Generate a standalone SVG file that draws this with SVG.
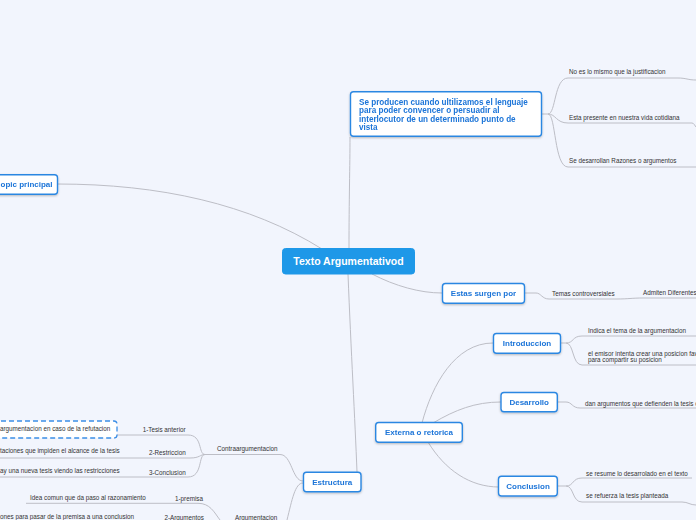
<svg xmlns="http://www.w3.org/2000/svg" width="696" height="520" viewBox="0 0 696 520">
<defs>
<filter id="sh" x="-10%" y="-20%" width="120%" height="160%">
<feDropShadow dx="0" dy="1" stdDeviation="0.8" flood-color="#000" flood-opacity="0.25"/>
</filter>
<style>
.bg{fill:#f2f5fd}
.node rect{fill:#ffffff;stroke:#2c87e2;stroke-width:1.4}
.node text{font-family:"Liberation Sans",Arial,sans-serif;font-weight:bold;font-size:8px;fill:#1b74d8}
#se-producen text{font-size:8.15px}
.central rect{fill:#1e98e8;stroke:#1e98e8}
.central text{font-family:"Liberation Sans",Arial,sans-serif;font-weight:bold;font-size:10.5px;fill:#ffffff}
.leaf{font-family:"Liberation Sans",Arial,sans-serif;font-size:6.3px;fill:#333333}
.con path{fill:none;stroke:#bdbec6;stroke-width:1}
.dash{fill:#ffffff;stroke:#3b8ee6;stroke-width:1.3;stroke-dasharray:5 3}
</style>
</defs>
<rect class="bg" x="0" y="0" width="696" height="520"/>

<g id="connectors" class="con">
<path d="M57 184 C160 184 250 204 322 249"/>
<path d="M349 248 C349 200 350 165 350 137"/>
<path d="M372 274 C395 286 420 293 442 293"/>
<path d="M348 274 C351 350 355 420 357 472"/>
<path d="M541 114 L548 114 C556 114 554 78 568 78 L678 78 C686 78 688 80 696 80"/>
<path d="M548 114 C556 114 556 123 568 123 L692 123 C694 123 695 126 696 127"/>
<path d="M548 114 C556 114 554 167 568 167 L696 167"/>
<path d="M524 293 L536 293 C541 293 542 299 549 299 L617 299 C628 299 632 298 643 298 L696 298"/>
<path d="M422 423 C432 385 455 343 493 343"/>
<path d="M433 423 C455 410 475 402 501 402"/>
<path d="M428 442 C445 470 470 487 499 487"/>
<path d="M561 343 L566 343 C574 343 572 336 582 336 L696 336"/>
<path d="M566 343 C574 343 572 365 582 365 L696 365"/>
<path d="M557 402 L566 402 C572 402 572 408 580 408 L696 408"/>
<path d="M557 486 L566 486 C574 486 572 478 582 478 L692 478"/>
<path d="M566 486 C574 486 572 502 582 502 L682 502 C688 502 690 505 696 505"/>
<path d="M303 481 C292 481 292 454.5 280 454.5 L203 454.5"/>
<path d="M303 483 C295 483 292 500 287 520"/>
<path d="M205 454.5 C198 454.5 203 435 188 435 L117 435"/>
<path d="M205 454.5 C200 454.5 200 458 190 458 L0 458"/>
<path d="M205 454.5 C198 454.5 203 477 188 477 L0 477"/>
<path d="M26 503.3 L198 503.3 C210 503.3 214 512 220 520"/>
</g>

<g id="central" class="central">
<rect x="282.5" y="248.5" width="132" height="25.5" rx="3"/>
<text x="348.5" y="265" text-anchor="middle">Texto Argumentativod</text>
</g>

<g id="topic-principal" class="node" filter="url(#sh)">
<rect x="-10" y="174.7" width="67.5" height="19.5" rx="3"/>
<text x="0.5" y="187.2">opic principal</text>
</g>

<g id="se-producen" class="node" filter="url(#sh)">
<rect x="350.5" y="91.7" width="191" height="44.5" rx="3"/>
<text x="359" y="104.5">Se producen cuando ultilizamos el lenguaje</text>
<text x="359" y="113">para poder convencer o persuadir al</text>
<text x="359" y="121.5">interlocutor de un determinado punto de</text>
<text x="359" y="130">vista</text>
</g>

<g id="leaf-justificacion"><text class="leaf" x="569" y="73.8">No es lo mismo que la justificacion</text></g>
<g id="leaf-cotidiana"><text class="leaf" x="569" y="119.8">Esta presente en nuestra vida cotidiana</text></g>
<g id="leaf-razones"><text class="leaf" x="569" y="163.2">Se desarrollan Razones o argumentos</text></g>

<g id="estas-surgen" class="node" filter="url(#sh)">
<rect x="442.5" y="283.5" width="82" height="19.8" rx="3"/>
<text x="483.5" y="296.2" text-anchor="middle">Estas surgen por</text>
</g>
<g id="leaf-temas"><text class="leaf" x="552" y="295.6">Temas controversiales</text></g>
<g id="leaf-admiten"><text class="leaf" x="643" y="295.4">Admiten Diferentes</text></g>

<g id="externa" class="node" filter="url(#sh)">
<rect x="375.7" y="422.5" width="86.6" height="19.8" rx="3"/>
<text x="419" y="435.3" text-anchor="middle">Externa o retorica</text>
</g>

<g id="introduccion" class="node" filter="url(#sh)">
<rect x="493.5" y="333.5" width="67" height="19.8" rx="3"/>
<text x="527" y="346.2" text-anchor="middle">Introduccion</text>
</g>
<g id="leaf-indica"><text class="leaf" x="588" y="333.2">Indica el tema de la argumentacion</text></g>
<g id="leaf-emisor">
<text class="leaf" x="588" y="355.5">el emisor intenta crear una posicion favorable</text>
<text class="leaf" x="588" y="362.3">para compartir su posicion</text>
</g>

<g id="desarrollo" class="node" filter="url(#sh)">
<rect x="501" y="392.5" width="56.3" height="19.2" rx="3"/>
<text x="529.2" y="404.9" text-anchor="middle">Desarrollo</text>
</g>
<g id="leaf-dan"><text class="leaf" x="585" y="405.5">dan argumentos que defienden la tesis o postura</text></g>

<g id="conclusion" class="node" filter="url(#sh)">
<rect x="498.5" y="476.2" width="58.8" height="19.8" rx="3"/>
<text x="528" y="489" text-anchor="middle">Conclusion</text>
</g>
<g id="leaf-resume"><text class="leaf" x="586" y="475.5">se resume lo desarrolado en el texto</text></g>
<g id="leaf-refuerza"><text class="leaf" x="586" y="498.2">se refuerza la tesis planteada</text></g>

<g id="estructura" class="node" filter="url(#sh)">
<rect x="303.5" y="472.2" width="57.5" height="19.6" rx="3"/>
<text x="332.2" y="484.8" text-anchor="middle">Estructura</text>
</g>

<g id="contraargumentacion"><text class="leaf" x="217" y="451.2">Contraargumentacion</text></g>
<g id="tesis-anterior"><text class="leaf" x="185.7" y="432.2" text-anchor="end">1-Tesis anterior</text></g>
<g id="restriccion"><text class="leaf" x="185.7" y="454.5" text-anchor="end">2-Restriccion</text></g>
<g id="conclusion-contra"><text class="leaf" x="185.7" y="474.5" text-anchor="end">3-Conclusion</text></g>

<g id="leaf-refutacion">
<rect class="dash" x="-10" y="421" width="127" height="17" rx="3"/>
<text class="leaf" x="0" y="431.2">argumentacion en caso de la refutacion</text>
</g>
<g id="leaf-limitaciones"><text class="leaf" x="0" y="452.9">taciones que impiden el alcance de la tesis</text></g>
<g id="leaf-nueva-tesis"><text class="leaf" x="0" y="473.2">ay una nueva tesis viendo las restricciones</text></g>

<g id="argumentacion"><text class="leaf" x="235" y="519.9">Argumentacion</text></g>
<g id="premisa"><text class="leaf" x="203" y="501.2" text-anchor="end">1-premisa</text></g>
<g id="argumentos"><text class="leaf" x="204" y="519.9" text-anchor="end">2-Argumentos</text></g>
<g id="leaf-idea"><text class="leaf" x="30" y="499.9">Idea comun que da paso al razonamiento</text></g>
<g id="leaf-razones-premisa">
<text class="leaf" x="0" y="519.4">ones para pasar de la premisa a una conclusion</text>
</g>
</svg>
